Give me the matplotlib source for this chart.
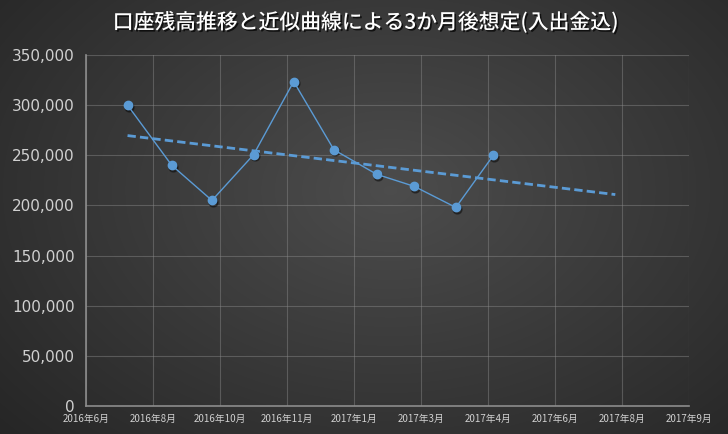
import datetime as dt
import numpy as np
import matplotlib
matplotlib.use("Agg")
import matplotlib.pyplot as plt
import matplotlib.dates as mdates
import matplotlib.patheffects as pe
from matplotlib.ticker import FuncFormatter

plt.rcParams['font.family'] = ['Noto Sans CJK JP', 'DejaVu Sans']

# month-end balances (business days)
dates = [dt.date(2016, 7, 29), dt.date(2016, 8, 31), dt.date(2016, 9, 30),
         dt.date(2016, 10, 31), dt.date(2016, 11, 30), dt.date(2016, 12, 30),
         dt.date(2017, 1, 31), dt.date(2017, 2, 28), dt.date(2017, 3, 31),
         dt.date(2017, 4, 28)]
balances = [300000, 240000, 205000, 250500, 323500, 255500,
            231000, 219000, 198000, 250000]
trend_end = dt.date(2017, 7, 28)

# Excel style date axis: ticks every 50 days
tick_start = dt.date(2016, 6, 28)
tick_step_days = 50
n_ticks = 10
y_max = 350000
y_step = 50000

title = "口座残高推移と近似曲線による3か月後想定(入出金込)"
blue = "#5b9bd5"

fig = plt.figure(figsize=(7.28, 4.34), dpi=100)

# radial gradient background
bg = fig.add_axes([0, 0, 1, 1], zorder=-10)
yy, xx = np.mgrid[0:434, 0:728]
r = np.sqrt(((xx - 390) / 520.0) ** 2 + ((yy - 190) / 360.0) ** 2)
shade = np.clip(0.30 - 0.15 * r, 0.14, 0.30)
bg.imshow(np.dstack([shade] * 3), aspect='auto', extent=[0, 1, 0, 1])
bg.axis('off')

ax = fig.add_axes([86 / 728, 28 / 434, (689 - 86) / 728, (406 - 55) / 434])
ax.set_facecolor('none')

xnum = mdates.date2num(dates)
coef = np.polyfit(xnum, balances, 1)
tx = np.array([xnum[0], mdates.date2num(trend_end)])
ax.plot(tx, np.polyval(coef, tx), color=blue, lw=2, ls=(0, (3, 1.5)), zorder=3)

# marker shadow
shadow = ax.transData + matplotlib.transforms.ScaledTranslation(1 / 100, -1.5 / 100, fig.dpi_scale_trans)
ax.plot(xnum, balances, 'o', ms=6.5, color='black', alpha=0.35, zorder=3, transform=shadow)
ax.plot(xnum, balances, color=blue, lw=1, marker='o', ms=6, zorder=4)

ticks = [tick_start + dt.timedelta(days=tick_step_days * i) for i in range(n_ticks)]
ax.set_xticks(mdates.date2num(ticks))
ax.set_xticklabels([f"{d.year}年{d.month}月" for d in ticks], fontsize=7, color='#d0d0d0')
ax.set_xlim(mdates.date2num(ticks[0]), mdates.date2num(ticks[-1]))

ax.set_ylim(0, y_max)
ax.set_yticks(np.arange(0, y_max + 1, y_step))
ax.yaxis.set_major_formatter(FuncFormatter(lambda v, p: f"{int(v):,}"))
for lab in ax.get_yticklabels():
    lab.set_fontsize(11)
    lab.set_color('#d0d0d0')
    lab.set_family(['DejaVu Sans'])

ax.tick_params(length=0, pad=8)
ax.tick_params(axis='x', pad=6)
ax.grid(True, color='#8a8a8a', lw=0.8, alpha=0.45)
for s in ['top', 'right']:
    ax.spines[s].set_visible(False)
for s in ['left', 'bottom']:
    ax.spines[s].set_color('#8c8c8c')
    ax.spines[s].set_linewidth(1.2)

fig.text(0.503, 0.948, title, ha='center', va='center', fontsize=15,
         color='white', fontweight='medium',
         path_effects=[pe.withSimplePatchShadow(offset=(1.2, -1.2), shadow_rgbFace='black', alpha=0.7)])

fig.savefig('out.png', dpi=100)
